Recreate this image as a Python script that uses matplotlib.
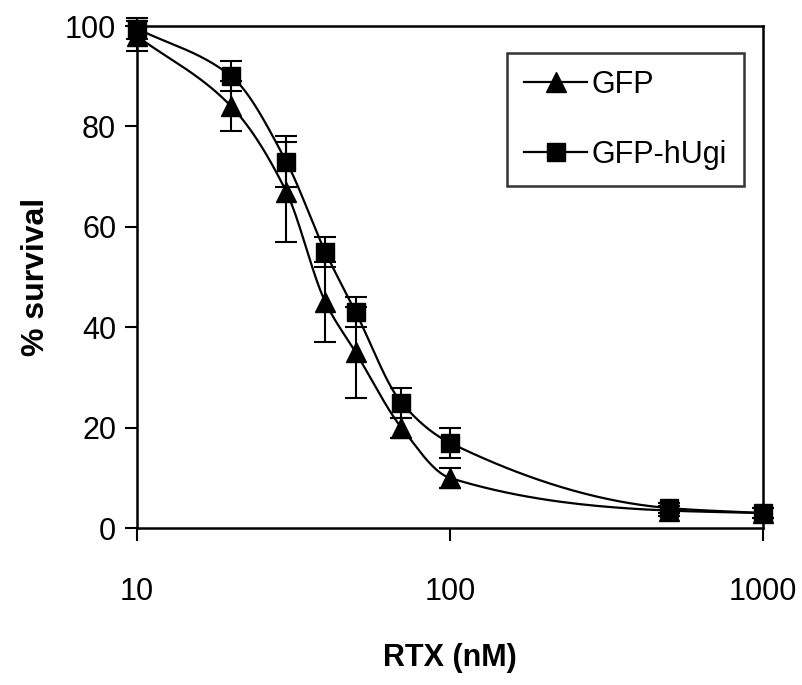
import numpy as np
import matplotlib
matplotlib.use("Agg")
import matplotlib.pyplot as plt
from matplotlib.lines import Line2D

plt.rcParams['font.family'] = ['Liberation Sans', 'DejaVu Sans']

rtx = [10, 20, 30, 40, 50, 70, 100, 500, 1000]
gfp = [98, 84, 67, 45, 35, 20, 10, 3.5, 3]
gfp_err = [3, 5, 10, 8, 9, 2, 2, 1, 1]
hugi = [99.5, 90, 73, 55, 43, 25, 17, 4, 3]
hugi_err = [2, 3, 5, 3, 3, 3, 3, 1, 1]
xticks = [10, 100, 1000]
yticks = [0, 20, 40, 60, 80, 100]

fig = plt.figure(figsize=(8.03, 6.85), dpi=100)
ax = fig.add_axes([0.1706, 0.229, 0.7794, 0.733])
ax.set_xscale('log')
ax.set_xlim(10, 1000)
ax.set_ylim(0, 100)


def smooth(xs, ys, n=40):
    """Monotone cubic (PCHIP) through the points, computed in display space."""
    pts = ax.transData.transform(np.column_stack([xs, ys]))
    u, v = pts[:, 0], pts[:, 1]
    h = np.diff(u)
    d = np.diff(v) / h
    m = np.zeros_like(v)
    m[0], m[-1] = d[0], d[-1]
    for k in range(1, len(v) - 1):
        if d[k - 1] * d[k] <= 0:
            m[k] = 0
        else:
            w1 = 2 * h[k] + h[k - 1]
            w2 = h[k] + 2 * h[k - 1]
            m[k] = (w1 + w2) / (w1 / d[k - 1] + w2 / d[k])
    ou, ov = [], []
    for k in range(len(v) - 1):
        t = np.linspace(0, 1, n)
        h00 = 2 * t ** 3 - 3 * t ** 2 + 1
        h10 = t ** 3 - 2 * t ** 2 + t
        h01 = -2 * t ** 3 + 3 * t ** 2
        h11 = t ** 3 - t ** 2
        ou.append(u[k] + t * h[k])
        ov.append(h00 * v[k] + h10 * h[k] * m[k] + h01 * v[k + 1] + h11 * h[k] * m[k + 1])
    out = np.column_stack([np.concatenate(ou), np.concatenate(ov)])
    dd = ax.transData.inverted().transform(out)
    return dd[:, 0], dd[:, 1]


for ys, err, mk, ms, z in [(hugi, hugi_err, 's', 13, 3), (gfp, gfp_err, '^', 14, 4)]:
    sx, sy = smooth(rtx, ys)
    ax.plot(sx, sy, color='black', lw=1.6, zorder=z, clip_on=False)
    ax.errorbar(rtx, ys, yerr=err, fmt='none', ecolor='black', elinewidth=1.5,
                capsize=8, capthick=1.5, zorder=z, clip_on=False)
    ax.plot(rtx, ys, linestyle='none', marker=mk, ms=ms, color='black', zorder=z + 0.5,
            clip_on=False)

for s in ax.spines.values():
    s.set_linewidth(1.8)
    s.set_color('black')

ax.set_xticks(xticks)
ax.set_xticklabels([str(v) for v in xticks])
ax.xaxis.set_minor_locator(matplotlib.ticker.NullLocator())
ax.set_yticks(yticks)
ax.tick_params(axis='both', direction='out', length=9, width=1.5, labelsize=22,
               colors='black')
ax.tick_params(axis='x', pad=26)
ax.tick_params(axis='y', pad=6)
ax.tick_params(top=False, right=False)

ax.set_xlabel('RTX (nM)', fontsize=22, fontweight='bold', labelpad=26)
ax.set_ylabel('% survival', fontsize=23, fontweight='bold', labelpad=10)

handles = [Line2D([], [], color='black', lw=1.6, marker='^', ms=14),
           Line2D([], [], color='black', lw=1.6, marker='s', ms=13)]
leg = ax.legend(handles, ['GFP', 'GFP-hUgi'], loc='upper left',
                bbox_to_anchor=(0.592, 0.946), fontsize=22, frameon=True,
                fancybox=False, edgecolor='black', handlelength=2.05,
                handletextpad=0.15, borderpad=0.55, labelspacing=1.3,
                borderaxespad=0)
leg.get_frame().set_linewidth(1.8)

fig.savefig('out.png', dpi=100)
